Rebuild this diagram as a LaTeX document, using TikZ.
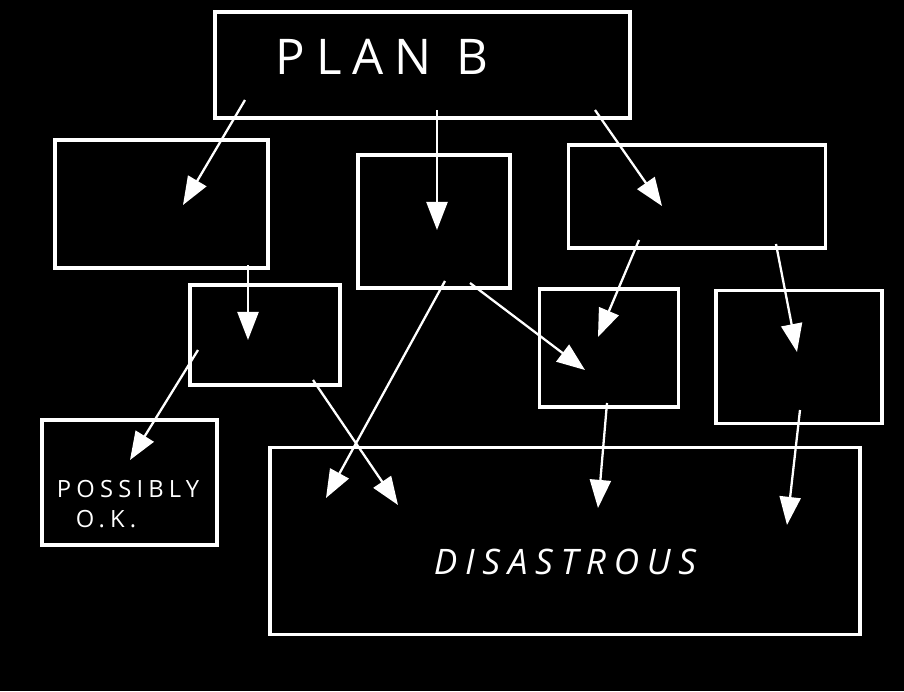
\documentclass[tikz,border=0pt]{standalone}
\usepackage{fontspec}
\usetikzlibrary{arrows.meta}
\newfontfamily\handfont[LetterSpace=22]{Open Sans}

\begin{document}
\begin{tikzpicture}[x=0.02cm, y=-0.02cm]
        \fill[black] (0,0) rectangle (904,691);
        \useasboundingbox (0,0) rectangle (904,691);
        \begin{scope}[every node/.style={draw=white, line width=2pt, rectangle, inner sep=0}]
            \node (planb) [minimum width=8.3cm, minimum height=2.12cm] at (422.5,65) {};
            \node (boxa) [minimum width=4.26cm, minimum height=2.56cm] at (161.5,204) {};
            \node (boxb) [minimum width=3.04cm, minimum height=2.66cm] at (434,221.5) {};
            \node (boxc) [minimum width=5.14cm, minimum height=2.06cm] at (697,196.5) {};
            \node (boxd) [minimum width=3.0cm, minimum height=2.0cm] at (265,335) {};
            \node (boxe) [minimum width=2.78cm, minimum height=2.36cm] at (609,348) {};
            \node (boxf) [minimum width=3.32cm, minimum height=2.66cm] at (799,357) {};
            \node (okbox) [minimum width=3.5cm, minimum height=2.5cm] at (129.5,482.5) {};
            \node (disbox) [minimum width=11.8cm, minimum height=3.74cm] at (565,541) {};
        \end{scope}
        \begin{scope}[every node/.style={text=white, inner sep=0}]
            \node (plantext) at (382,57) {\handfont\fontsize{28}{30}\selectfont PLAN\,\,\,B};
            \node (oktext) at (128,489) {\addfontfeature{LetterSpace=15}\handfont\fontsize{13.5}{15}\selectfont POSSIBLY};
            \node (oktext2) at (106,519) {\handfont\fontsize{13.5}{15}\selectfont O.K.};
            \node (distext) at (565,562) {\handfont\itshape\fontsize{20}{22}\selectfont DISASTROUS};
        \end{scope}
        % arrow ends
        \coordinate (s1) at (245,100);  \coordinate (t1) at (183,205);
        \coordinate (s2) at (437,110);  \coordinate (t2) at (437,230);
        \coordinate (s3) at (595,110);  \coordinate (t3) at (662,206);
        \coordinate (s4) at (248,265);  \coordinate (t4) at (248,340);
        \coordinate (s5) at (198,350);  \coordinate (t5) at (130,460);
        \coordinate (s6) at (445,281);  \coordinate (t6) at (326,498);
        \coordinate (s7) at (470,283);  \coordinate (t7) at (585,370);
        \coordinate (s8) at (313,380);  \coordinate (t8) at (398,505);
        \coordinate (s9) at (639,240);  \coordinate (t9) at (598,337);
        \coordinate (s10) at (776,244); \coordinate (t10) at (797,352);
        \coordinate (s11) at (607,403); \coordinate (t11) at (598,508);
        \coordinate (s12) at (800,410); \coordinate (t12) at (787,525);
        \begin{scope}[every edge/.style={draw=white, line width=1.3pt, -{Triangle[length=16pt, width=12pt, fill=white]}}]
            \path (s1) edge (t1);
            \path (s2) edge (t2);
            \path (s3) edge (t3);
            \path (s4) edge (t4);
            \path (s5) edge (t5);
            \path (s6) edge (t6);
            \path (s7) edge (t7);
            \path (s8) edge (t8);
            \path (s9) edge (t9);
            \path (s10) edge (t10);
            \path (s11) edge (t11);
            \path (s12) edge (t12);
        \end{scope}
    \end{tikzpicture}
\end{document}
